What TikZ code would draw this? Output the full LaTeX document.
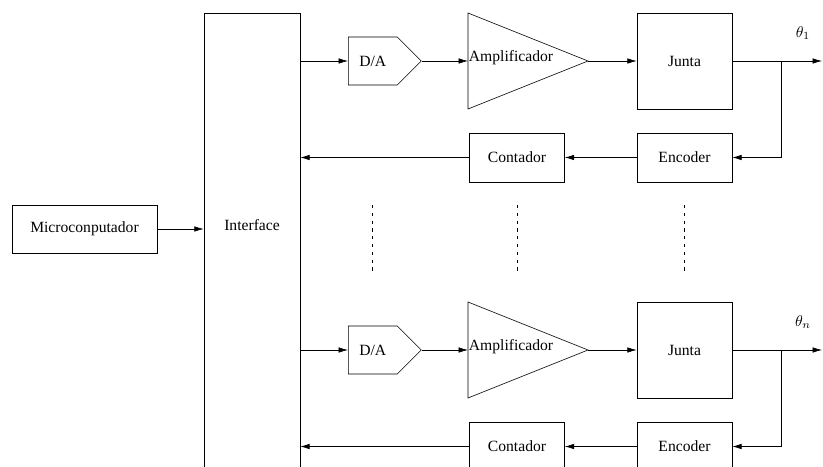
\documentclass[tikz,border=0pt]{standalone}
\usepackage[no-math]{fontspec}
\setmainfont{Liberation Serif}
\usetikzlibrary{shapes.symbols,arrows.meta}

\tikzset{
  bloco/.style={draw, rectangle, inner sep=0pt, minimum width=60.8pt, minimum height=31.4pt},
  conv/.style={draw, signal, signal to=east, signal pointer angle=90, inner sep=0pt,
    minimum width=46.7pt, minimum height=30.7pt},
  seta/.style={-{Latex[length=6pt,width=3.5pt]}},
  pontos/.style={dash pattern=on 2pt off 3pt}
}

\begin{document}
\begin{tikzpicture}[x=0.64pt,y=-0.64pt]
        \clip (0,0) rectangle (823,467);
        \node[bloco, minimum width=92.8pt, minimum height=30.7pt] (micro) at (84.5,229) {Microconputador};
        \node[draw, minimum width=61.4pt, minimum height=299pt] (interface) at (252,246.5) {};
        \node (interfacetxt) at (252,225) {Interface};
        \path[draw,seta] (micro.east) -- (micro.east -| interface.west);

        % junta 1
        \node[conv, anchor=west] (da1) at (348,61) {D/A};
        \coordinate (amp1w) at (468,61);
        \coordinate (amp1e) at (588,61);
        \path[draw] (468,13) -- (amp1e) -- (468,109) -- cycle;
        \node (amp1) at (511,58) {Amplificador};
        \node[bloco, minimum height=61.4pt] (junta1) at (684.5,61) {Junta};
        \node[bloco] (enc1) at (684.5,157.5) {Encoder};
        \node[bloco] (cont1) at (517,157.5) {Contador};
        \coordinate (ram1) at (781,61);
        \coordinate (saida1) at (822,61);
        \node (theta1) at (803,33) {$\theta_1$};
        \path[draw,seta] (interface.east |- da1.west) -- (da1.west);
        \path[draw,seta] (da1.east) -- (amp1w);
        \path[draw,seta] (amp1e) -- (junta1.west);
        \path[draw,seta] (junta1.east) -- (saida1);
        \path[draw,seta] (ram1) |- (enc1.east);
        \path[draw,seta] (enc1.west) -- (cont1.east);
        \path[draw,seta] (cont1.west) -- (cont1.west -| interface.east);

        % juntas intermediarias
        \path[draw,pontos] (372,205) -- (372,273);
        \path[draw,pontos] (517,205) -- (517,273);
        \path[draw,pontos] (684.5,205) -- (684.5,273);

        % junta n
        \node[conv, anchor=west] (dan) at (348,350) {D/A};
        \coordinate (ampnw) at (468,350);
        \coordinate (ampne) at (588,350);
        \path[draw] (468,302) -- (ampne) -- (468,398) -- cycle;
        \node (ampn) at (511,347) {Amplificador};
        \node[bloco, minimum height=61.4pt] (juntan) at (684.5,350) {Junta};
        \node[bloco] (encn) at (684.5,446.5) {Encoder};
        \node[bloco] (contn) at (517,446.5) {Contador};
        \coordinate (ramn) at (781,350);
        \coordinate (saidan) at (822,350);
        \node (thetan) at (803,322) {$\theta_n$};
        \path[draw,seta] (interface.east |- dan.west) -- (dan.west);
        \path[draw,seta] (dan.east) -- (ampnw);
        \path[draw,seta] (ampne) -- (juntan.west);
        \path[draw,seta] (juntan.east) -- (saidan);
        \path[draw,seta] (ramn) |- (encn.east);
        \path[draw,seta] (encn.west) -- (contn.east);
        \path[draw,seta] (contn.west) -- (contn.west -| interface.east);
\end{tikzpicture}
\end{document}
